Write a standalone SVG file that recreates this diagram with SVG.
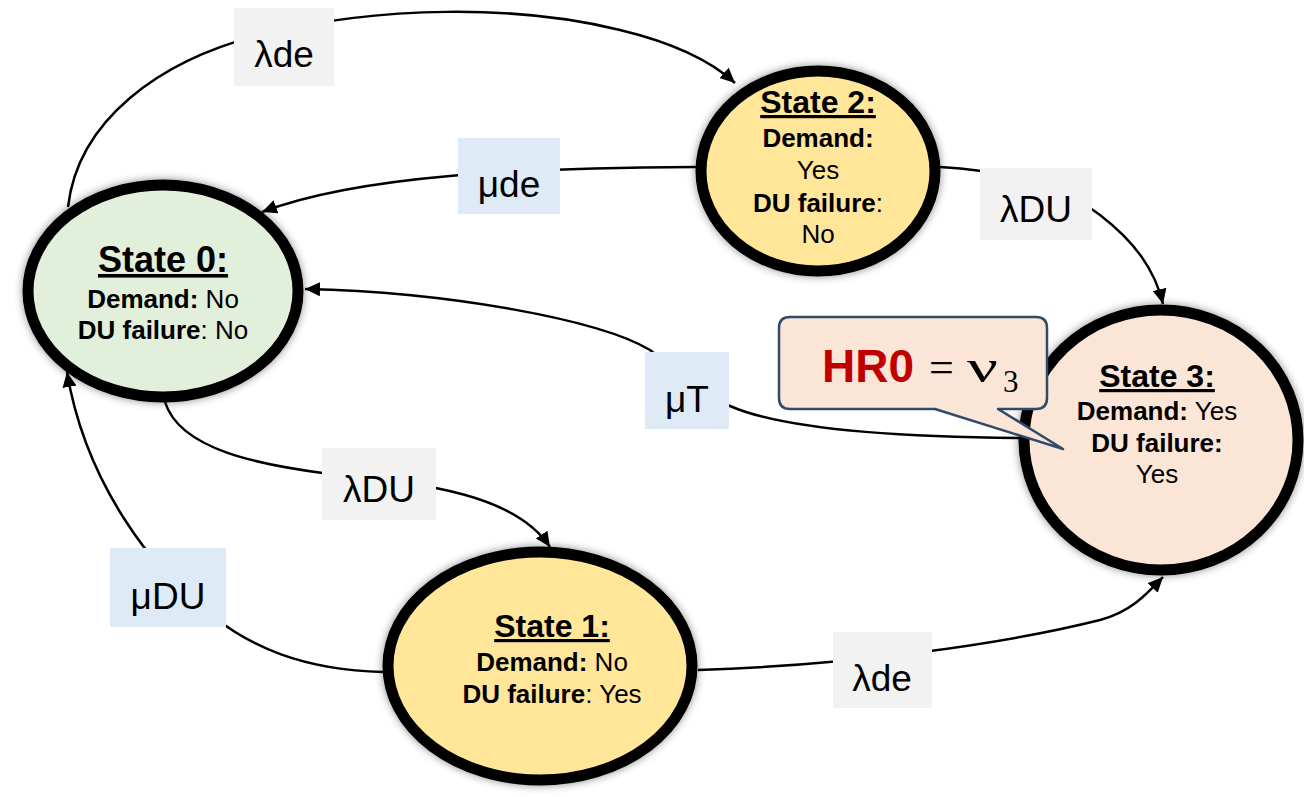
<svg xmlns="http://www.w3.org/2000/svg" width="1304" height="797" viewBox="0 0 1304 797">
  <defs>
    <filter id="soft" x="-20%" y="-20%" width="140%" height="140%">
      <feDropShadow dx="0" dy="0" stdDeviation="4" flood-color="#000" flood-opacity="0.45"/>
    </filter>
    <marker id="arrow" markerUnits="userSpaceOnUse" markerWidth="16" markerHeight="14" refX="15" refY="7" orient="auto">
      <path d="M0,0 L15,7 L0,14 z" fill="#000"/>
    </marker>
  </defs>
  <style>
    .state { stroke: #000; stroke-width: 11; filter: url(#soft); }
    .edge { fill: none; stroke: #000; stroke-width: 2.5; marker-end: url(#arrow); }
    .title { font-family: "Liberation Sans", Arial, sans-serif; font-weight: bold; text-decoration: underline; text-anchor: middle; fill: #000; }
    .info { font-family: "Liberation Sans", Arial, sans-serif; font-size: 26px; text-anchor: middle; fill: #000; }
    .b { font-weight: bold; }
    .lbl { font-family: "Liberation Sans", Arial, sans-serif; font-size: 37px; text-anchor: middle; fill: #000; }
    .grey { fill: #f2f2f2; }
    .blue { fill: #deebf7; }
    .math { font-family: "Liberation Serif", "Times New Roman", serif; fill: #000; }
  </style>

  <rect width="1304" height="797" fill="#fff"/>

  <!-- States -->
  <g id="state0">
    <ellipse class="state" cx="163" cy="291" rx="135" ry="106" fill="#e2efda"/>
    <text class="title" x="163" y="272" font-size="36">State 0:</text>
    <text class="info" x="163" y="308"><tspan class="b">Demand:</tspan> No</text>
    <text class="info" x="163" y="339"><tspan class="b">DU failure</tspan>: No</text>
  </g>

  <g id="state2">
    <ellipse class="state" cx="818" cy="171" rx="117" ry="100" fill="#ffe699"/>
    <text class="title" x="818" y="113" font-size="32">State 2:</text>
    <text class="info b" x="818" y="147">Demand:</text>
    <text class="info" x="818" y="179">Yes</text>
    <text class="info" x="818" y="212"><tspan class="b">DU failure</tspan>:</text>
    <text class="info" x="818" y="243">No</text>
  </g>

  <g id="state1">
    <ellipse class="state" cx="540" cy="666" rx="152" ry="114" fill="#ffe699"/>
    <text class="title" x="552" y="637" font-size="32">State 1:</text>
    <text class="info" x="552" y="671"><tspan class="b">Demand:</tspan> No</text>
    <text class="info" x="552" y="703"><tspan class="b">DU failure</tspan>: Yes</text>
  </g>

  <g id="state3">
    <ellipse class="state" cx="1161" cy="440" rx="137" ry="130" fill="#fbe5d6"/>
    <text class="title" x="1157" y="387" font-size="32">State 3:</text>
    <text class="info" x="1157" y="420"><tspan class="b">Demand:</tspan> Yes</text>
    <text class="info b" x="1157" y="452">DU failure:</text>
    <text class="info" x="1157" y="483">Yes</text>
  </g>

  <!-- Transitions -->
  <g id="connectors">
    <path class="edge" d="M 68 207 C 78 120, 160 60, 260 35 C 380 5, 520 5, 620 30 C 670 42, 710 60, 735 83"/>
    <path class="edge" d="M 696 167 C 520 168, 360 175, 262 212"/>
    <path class="edge" d="M 940 167 C 1000 170, 1060 185, 1100 215 C 1135 242, 1155 270, 1163 304"/>
    <path class="edge" d="M 1020 438 C 880 437, 780 428, 730 406 C 690 388, 670 366, 650 350 C 600 320, 450 292, 305 289"/>
    <path class="edge" d="M 165 402 C 180 450, 260 465, 330 474 C 430 484, 515 495, 550 547"/>
    <path class="edge" d="M 383 672 C 300 670, 250 645, 215 618 C 150 570, 85 480, 67 372"/>
    <path class="edge" d="M 698 670 C 850 665, 1000 645, 1100 620 C 1130 612, 1145 596, 1163 577"/>

    <g id="rate-labels">
      <rect class="grey" x="234" y="8" width="100" height="78"/>
      <text class="lbl" x="284" y="67">λde</text>

      <rect class="blue" x="458" y="138" width="102" height="76"/>
      <text class="lbl" x="509" y="197">μde</text>

      <rect class="grey" x="980" y="168" width="112" height="72"/>
      <text class="lbl" x="1036" y="222">λDU</text>

      <rect class="blue" x="645" y="352" width="84" height="77"/>
      <text class="lbl" x="687" y="412">μT</text>

      <rect class="grey" x="322" y="448" width="114" height="72"/>
      <text class="lbl" x="379" y="502">λDU</text>

      <rect class="blue" x="110" y="548" width="116" height="79"/>
      <text class="lbl" x="168" y="609">μDU</text>

      <rect class="grey" x="833" y="632" width="99" height="76"/>
      <text class="lbl" x="882" y="691">λde</text>
    </g>
  </g>

  <!-- Hazard-rate callout -->
  <g id="callout">
    <path d="M 790 317 H 1036 Q 1047 317 1047 328 V 398 Q 1047 409 1036 409 H 998 L 1063 449 L 935 409 H 790 Q 779 409 779 398 V 328 Q 779 317 790 317 Z" fill="#fbe5d6" stroke="#2f4b6b" stroke-width="2.5" stroke-linejoin="round"/>
    <text x="822" y="382" font-family="Liberation Sans, Arial, sans-serif" font-weight="bold" font-size="46" fill="#c00000">HR0</text>
    <text class="math" x="929" y="382" font-size="44">=</text>
    <text class="math" x="967" y="382" font-size="46" textLength="31" lengthAdjust="spacingAndGlyphs">ν</text>
    <text class="math" x="1003" y="392" font-size="31">3</text>
  </g>
</svg>
